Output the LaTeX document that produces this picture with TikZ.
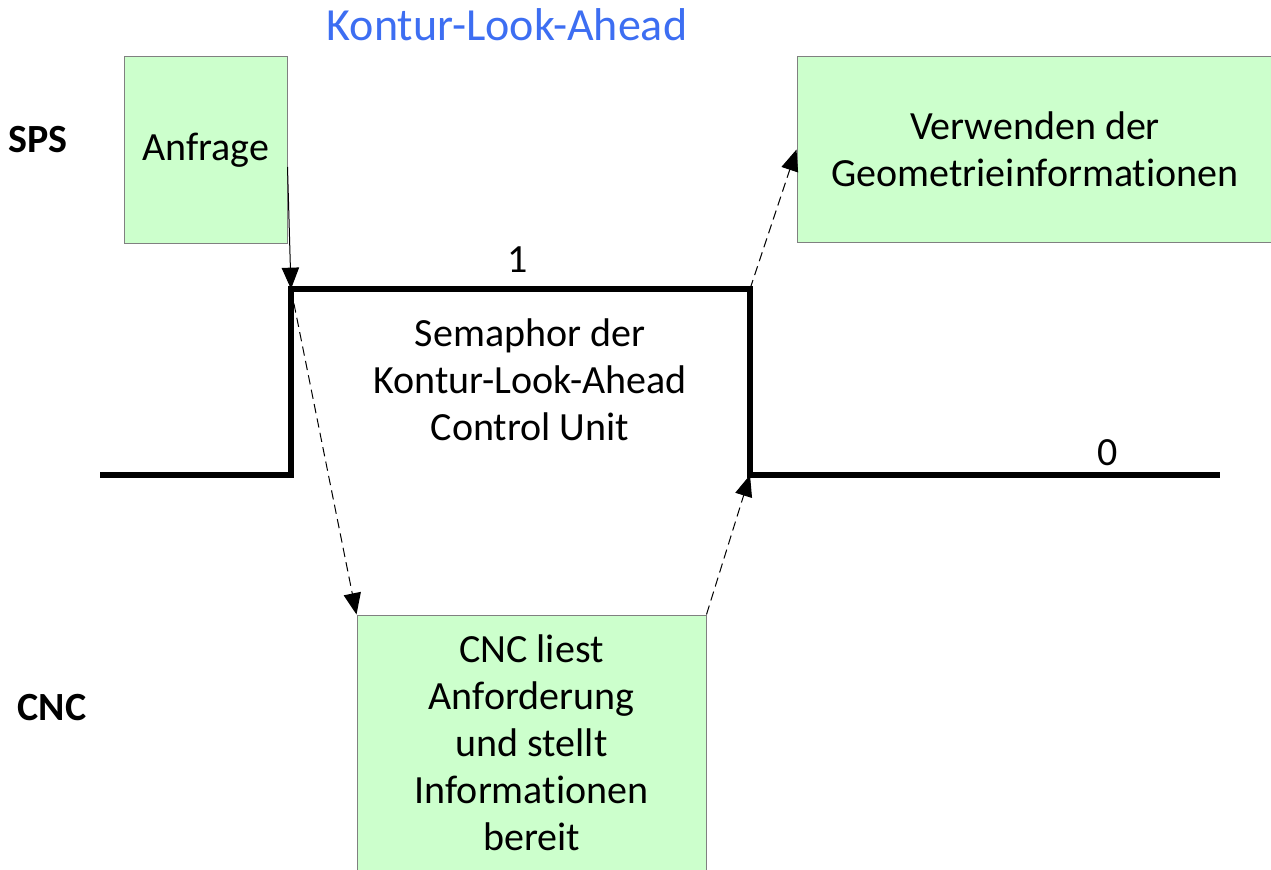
\documentclass[tikz,border=0pt]{standalone}
\usepackage{fontspec}
\setmainfont[Ligatures=NoCommon]{Carlito}
\usetikzlibrary{arrows.meta}
\definecolor{boxgreen}{HTML}{CCFFCC}
\definecolor{boxborder}{HTML}{808080}
\definecolor{titleblue}{HTML}{3D6EF2}
\begin{document}
\begin{tikzpicture}[x=0.75pt,y=-0.75pt,
  txt/.style={font=\fontsize{30}{35.25}\selectfont, align=center, inner sep=0pt},
  greenbox/.style={txt, draw=boxborder, fill=boxgreen, line width=0.75pt},
  signal/.style={line width=4.25pt, line join=miter},
  arr/.style={line width=0.75pt, -{Triangle[length=16pt,width=13pt]}},
  darr/.style={arr, dash pattern=on 7pt off 4pt}]
\useasboundingbox (0,0) rectangle (1271,870);
\clip (0,0) rectangle (1271,870);
% boxes
\node[greenbox, minimum width=122.25pt, minimum height=139.5pt] (anfrage) at (205.5,150) {Anfrage};
\node[greenbox, minimum width=357pt, minimum height=138.75pt] (verw) at (1035,149.5) {Verwenden der\\Geometrieinformationen};
\node[greenbox, minimum width=261.75pt, minimum height=191.25pt] (cnc) at (531.5,742.5) {CNC liest\\Anforderung\\ und stellt\\Informationen\\bereit};
% labels
\node[txt, font=\fontsize{34.5}{40}\selectfont, text=titleblue] (title) at (507,25) {Kontur-Look-Ahead};
\node[txt, font=\fontsize{30}{35.25}\selectfont\bfseries] (sps) at (38,140) {SPS};
\node[txt, font=\fontsize{30}{35.25}\selectfont\bfseries] (cnclab) at (52,708) {CNC};
\node[txt] (one) at (518,260) {1};
\node[txt] (zero) at (1108,453) {0};
\node[txt] (sema) at (530,380) {Semaphor der\\Kontur-Look-Ahead\\Control Unit};
% signal
\coordinate (s0) at (100,475);
\coordinate (s1) at (291,475);
\coordinate (s2) at (291,289);
\coordinate (s3) at (750,289);
\coordinate (s4) at (750,475);
\coordinate (s5) at (1220,475);
\draw[signal] (s0) -- (s1) -- (s2) -- (s3) -- (s4) -- (s5);
% connectors
\draw[arr] ([yshift=-12.75pt]anfrage.east) -- (s2);
\draw[darr] (s2) -- (cnc.north west);
\draw[darr] (cnc.north east) -- (s4);
\draw[darr] (s3) -- (verw.west);
\end{tikzpicture}
\end{document}
